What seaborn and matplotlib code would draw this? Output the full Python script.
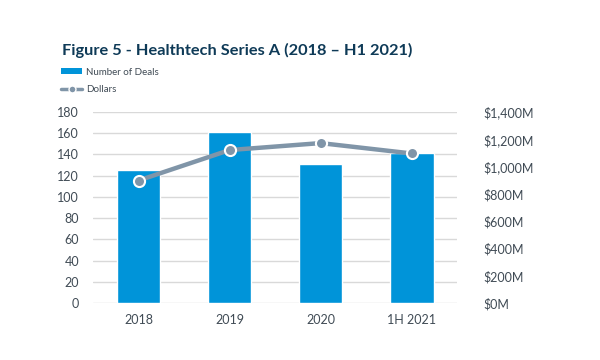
import matplotlib.pyplot as plt
import seaborn as sns
import pandas as pd
from matplotlib.lines import Line2D
from matplotlib.patches import Patch

# Data
years = ["2018", "2019", "2020", "1H 2021"]
deals = [125, 161, 131, 141]
dollars_m = [898, 1121, 1172, 1096]

BAR = "#0094D9"
LINE = "#8095A8"
TXT = "#404B55"
TITLE = "#0E3A57"

df = pd.DataFrame({"year": years, "deals": deals, "dollars": dollars_m})

sns.set_style("white")
plt.rcParams["font.family"] = ["Lato", "DejaVu Sans"]

fig = plt.figure(figsize=(6, 3.6), dpi=100)
ax = fig.add_axes([0.155, 0.158, 0.607, 0.531])

sns.barplot(data=df, x="year", y="deals", color=BAR, width=0.48,
            saturation=1, ax=ax, zorder=2)
ax.set_ylim(0, 180)
ax.set_yticks(range(0, 181, 20))
ax.set_xlim(-0.5, 3.5)
ax.grid(axis="y", color="#D9D9D9", linewidth=1, zorder=0)
ax.set_axisbelow(True)
ax.set_xlabel("")
ax.set_ylabel("")
for s in ax.spines.values():
    s.set_visible(False)
ax.tick_params(axis="both", length=0, labelsize=9, colors=TXT, pad=8)
ax.tick_params(axis="y", pad=10)

ax2 = ax.twinx()
sns.lineplot(x=list(range(len(years))), y=dollars_m, ax=ax2, color=LINE,
             linewidth=3.2, marker="o", markersize=8,
             markerfacecolor=LINE, markeredgecolor="white",
             markeredgewidth=1.5, zorder=3)
ax2.set_ylim(0, 1400)
ax2.set_yticks(range(0, 1401, 200))
ax2.set_yticklabels([f"${v:,}M" for v in range(0, 1401, 200)])
for s in ax2.spines.values():
    s.set_visible(False)
ax2.tick_params(axis="y", length=0, labelsize=9, colors=TXT, pad=19)
ax2.grid(False)

fig.text(0.103, 0.848, "Figure 5 - Healthtech Series A (2018 \u2013 H1 2021)",
         fontsize=11.8, fontweight="bold", color=TITLE)

handles = [Patch(facecolor=BAR, edgecolor="none"),
           Line2D([0], [0], color=LINE, linewidth=2.5, marker="o",
                  markersize=5, markerfacecolor=LINE,
                  markeredgecolor="white")]
fig.legend(handles, ["Number of Deals", "Dollars"], loc="upper left",
           bbox_to_anchor=(0.095, 0.823), frameon=False, fontsize=7,
           labelcolor=TXT, handlelength=2.2, handleheight=0.6,
           handletextpad=0.4, labelspacing=0.85, borderaxespad=0)

fig.savefig("out.png", dpi=100)
